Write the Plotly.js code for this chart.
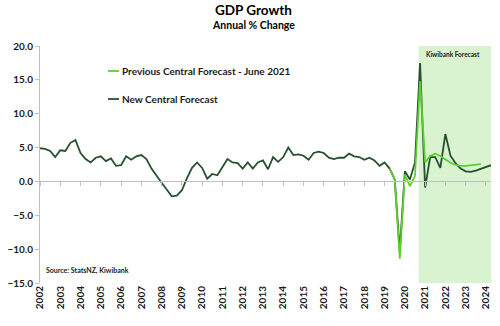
<!DOCTYPE html>
<html>
<head>
<meta charset="utf-8">
<script src="https://cdn.plot.ly/plotly-3.0.1.min.js"></script>
<style>html,body{margin:0;padding:0;background:#fff}#chart{width:500px;height:326px}</style>
</head>
<body>
<div id="chart"></div>
<script>
// Quarterly annual % change, New Central Forecast (first point = 2002 tick)
const newCentral = [4.9,4.8,4.5,3.6,4.6,4.5,5.7,6.1,4.2,3.3,
  2.8,3.5,3.7,3.0,3.4,2.3,2.4,3.7,3.2,3.7,
  3.9,3.3,1.9,0.8,-0.2,-1.2,-2.2,-2.1,-1.3,0.5,
  2.0,2.8,2.0,0.4,1.1,0.9,2.1,3.3,2.8,2.7,
  1.9,2.8,1.9,2.8,3.1,1.8,3.6,2.9,3.6,5.0,
  3.9,4.0,3.8,3.2,4.2,4.4,4.2,3.5,3.3,3.5,
  3.5,4.1,3.7,3.6,3.2,3.5,3.1,2.3,2.8,1.9,
  0.3,-10.3,1.5,0.3,2.8,17.5,-0.9,3.6,3.6,2.0,
  7.0,3.8,2.7,1.9,1.5,1.4,1.6,1.9,2.2,2.4];
// Previous Central Forecast - June 2021 (visible portion, starting at quarter index 69)
const prevStartIndex = 69;
const prevCentral = [1.9,0.3,-11.4,1.0,-0.7,0.8,14.8,2.8,3.75,4.1,3.75,3.25,2.75,2.45,2.3,2.3,2.35,2.45,2.55];
const yearLabels = ['2002','2003','2004','2005','2006','2007','2008','2009','2010','2011','2012',
  '2013','2014','2015','2016','2017','2018','2019','2020','2021','2022','2023','2024'];
const forecastStart = 74.7;

const xNew = newCentral.map((_, i) => i);
const xPrev = prevCentral.map((_, i) => i + prevStartIndex);
const tickVals = yearLabels.map((_, i) => i * 4);
const lastIdx = newCentral.length - 1;

const darkGreen = '#27502f';
const lightGreen = '#5ccf2e';
const FONT = 'Lato, "Open Sans", sans-serif';

const traces = [
  {x: xPrev, y: prevCentral, type: 'scatter', mode: 'lines', name: 'Previous Central Forecast - June 2021',
   line: {color: lightGreen, width: 1.8}, xaxis: 'x2', yaxis: 'y', hoverinfo: 'skip'},
  {x: xNew, y: newCentral, type: 'scatter', mode: 'lines', name: 'New Central Forecast',
   line: {color: darkGreen, width: 1.8}, xaxis: 'x', yaxis: 'y'}
];

const tickFont = {family: FONT, size: 10, color: '#1a1a1a', weight: 700};

const layout = {
  width: 500, height: 326,
  margin: {l: 40, r: 9, t: 46, b: 43},
  paper_bgcolor: '#ffffff', plot_bgcolor: '#ffffff',
  showlegend: false,
  xaxis: {range: [0, lastIdx], tickvals: tickVals, ticktext: yearLabels, tickangle: -90,
    showline: false, ticks: '', showgrid: false, zeroline: false, tickfont: tickFont, fixedrange: true},
  xaxis2: {range: [0, lastIdx], overlaying: 'x', anchor: 'free', position: 15/35, side: 'bottom',
    tickvals: tickVals, showticklabels: false, showline: true, linecolor: '#bfbfbf', linewidth: 1,
    ticks: 'outside', ticklen: 4, tickcolor: '#bfbfbf', showgrid: false, zeroline: false},
  yaxis: {range: [-15, 20], dtick: 5, tick0: 0, tickformat: '.1f', showline: true, linecolor: '#bfbfbf',
    ticks: 'outside', ticklen: 4, tickcolor: '#bfbfbf', showgrid: false, zeroline: false, tickfont: tickFont},
  shapes: [
    {type: 'rect', xref: 'x', yref: 'y', x0: forecastStart, x1: lastIdx, y0: -15, y1: 20,
     fillcolor: '#d9f2d0', line: {width: 0}, layer: 'below'},
    {type: 'line', xref: 'paper', yref: 'paper', x0: (108-40)/451, x1: (119-40)/451,
     y0: (283-71)/237, y1: (283-71)/237, line: {color: lightGreen, width: 1.8}},
    {type: 'line', xref: 'paper', yref: 'paper', x0: (108-40)/451, x1: (119-40)/451,
     y0: (283-99)/237, y1: (283-99)/237, line: {color: darkGreen, width: 1.8}}
  ],
  annotations: [
    {text: 'GDP Growth', xref: 'paper', yref: 'paper', x: (253-40)/451, y: (283-10.5)/237,
     showarrow: false, xanchor: 'center', yanchor: 'middle', font: {family: FONT, size: 13.5, color: '#000', weight: 700}},
    {text: 'Annual % Change', xref: 'paper', yref: 'paper', x: (253-40)/451, y: (283-25)/237,
     showarrow: false, xanchor: 'center', yanchor: 'middle', font: {family: FONT, size: 10.5, color: '#000', weight: 700}},
    {text: 'Previous Central Forecast - June 2021', xref: 'paper', yref: 'paper', x: (120-40)/451, y: (283-71)/237,
     showarrow: false, xanchor: 'left', yanchor: 'middle', font: {family: FONT, size: 10, color: '#1a1a1a', weight: 700}},
    {text: 'New Central Forecast', xref: 'paper', yref: 'paper', x: (120-40)/451, y: (283-99)/237,
     showarrow: false, xanchor: 'left', yanchor: 'middle', font: {family: FONT, size: 10, color: '#1a1a1a', weight: 700}},
    {text: 'Kiwibank Forecast', xref: 'paper', yref: 'paper', x: (453-40)/451, y: (283-55)/237,
     showarrow: false, xanchor: 'center', yanchor: 'middle', font: {family: FONT, size: 6.5, color: '#1a1a1a', weight: 700}},
    {text: 'Source: StatsNZ, Kiwibank', xref: 'paper', yref: 'paper', x: (44-40)/451, y: (283-270)/237,
     showarrow: false, xanchor: 'left', yanchor: 'middle', font: {family: FONT, size: 7, color: '#1a1a1a', weight: 700}}
  ]
};

Plotly.newPlot('chart', traces, layout, {displayModeBar: false, staticPlot: true});
</script>
</body>
</html>
